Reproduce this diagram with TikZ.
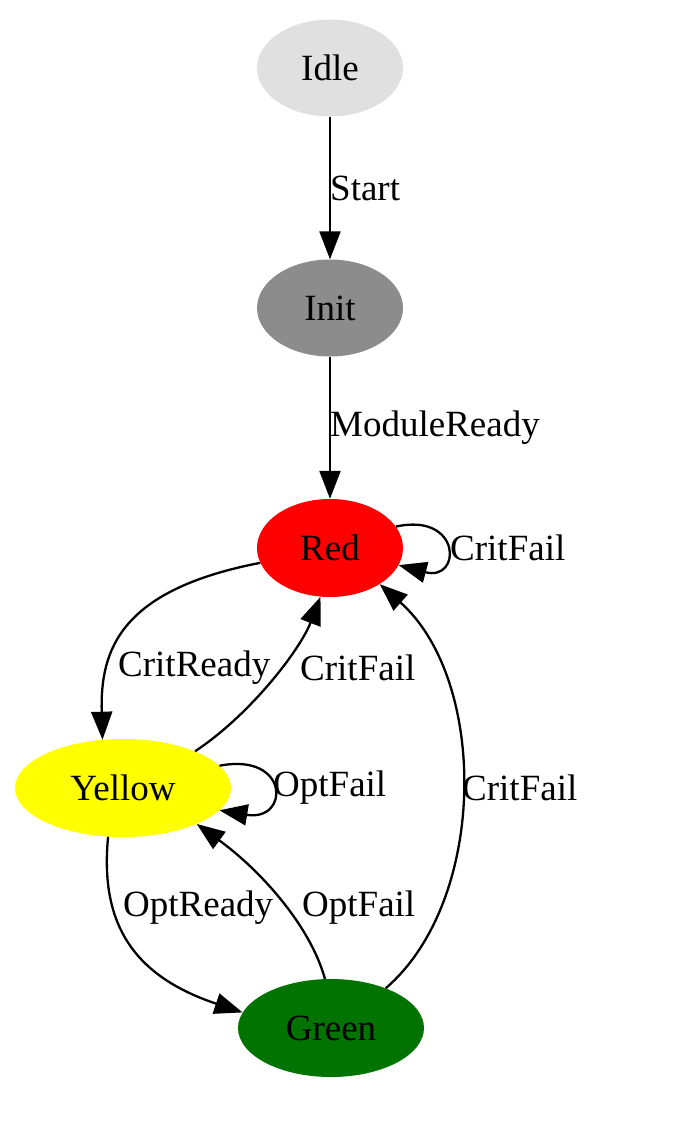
\documentclass[tikz,border=0pt]{standalone}
\usepackage{fontspec}
\setmainfont{Liberation Serif}
\usetikzlibrary{shapes.geometric,arrows.meta}
\definecolor{idlegray}{RGB}{224,224,224}
\definecolor{initgray}{RGB}{140,140,140}
\definecolor{stgreen}{RGB}{0,115,0}
\definecolor{styellow}{RGB}{255,255,0}
\begin{document}
\begin{tikzpicture}[x=1pt,y=-1pt,
  state/.style={ellipse,inner sep=0pt,font=\fontsize{37}{43}\selectfont},
  lbl/.style={anchor=west,inner sep=0pt,font=\fontsize{37}{43}\selectfont},
  edge/.style={line width=2.3pt,-{Triangle[length=28pt,width=21pt]}}]
\useasboundingbox (0,0) rectangle (680,1138);
\node[state,fill=idlegray,minimum width=146pt,minimum height=97pt] (Idle) at (330,68) {Idle};
\node[state,fill=initgray,minimum width=146pt,minimum height=97pt] (Init) at (330,308) {Init};
\node[state,fill=red,minimum width=146pt,minimum height=98pt] (Red) at (330,548) {Red};
\node[state,fill=styellow,minimum width=216pt,minimum height=98pt] (Yellow) at (123,788) {Yellow};
\node[state,fill=stgreen,minimum width=186pt,minimum height=98pt] (Green) at (331,1028) {Green};

\draw[edge] (Idle) -- (Init);
\node[lbl] (lStart) at (330,188) {Start};
\draw[edge] (Init) -- (Red);
\node[lbl] (lMod) at (330,428) {ModuleReady};

\draw[edge] (Red.18) .. controls (462,512) and (462,582) .. (Red.346);
\node[lbl] (lRR) at (450,548) {CritFail};

\draw[edge] (Red.192) .. controls (120,590) and (100,650) .. (Yellow.113);
\node[lbl] (lCR) at (118,668) {CritReady};

\draw[edge] (Yellow.27) .. controls (250,715) and (300,650) .. (Red.259);
\node[lbl] (lYR) at (300,668) {CritFail};

\draw[edge] (Yellow.13) .. controls (290,752) and (290,822) .. (Yellow.347);
\node[lbl] (lYY) at (273,788) {OptFail};

\draw[edge] (Yellow.253) .. controls (100,920) and (130,975) .. (Green.170);
\node[lbl] (lYG) at (123,908) {OptReady};

\draw[edge] (Green.97) .. controls (310,925) and (260,870) .. (Yellow.334);
\node[lbl] (lGY) at (302,908) {OptFail};

\draw[edge] (Green.36) .. controls (488,900) and (488,680) .. (Red.324);
\node[lbl] (lGR) at (462,788) {CritFail};
\end{tikzpicture}
\end{document}
